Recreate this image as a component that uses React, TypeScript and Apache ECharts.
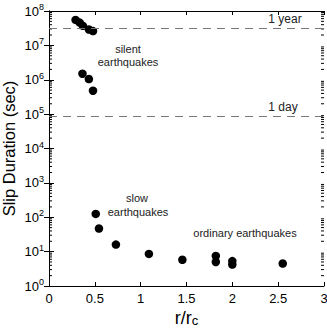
import React, { useEffect, useRef } from "react";
import * as echarts from "echarts";

const silentX = [0.29, 0.335, 0.37, 0.435, 0.48, 0.365, 0.435, 0.48];
const silentY = [5.5e7, 4.6e7, 3.7e7, 2.9e7, 2.6e7, 1.5e6, 1.05e6, 4.8e5];
const slowX = [0.51, 0.545, 0.73, 1.09];
const slowY = [125, 47, 16, 8.6];
const ordinaryX = [1.455, 1.82, 1.82, 2.0, 2.0, 2.55];
const ordinaryY = [5.8, 7.5, 5.0, 5.3, 4.2, 4.5];

const oneYear = 31536000;
const oneDay = 86400;

const xTicks = [0, 0.5, 1, 1.5, 2, 2.5, 3];
const decades = [1, 10, 100, 1e3, 1e4, 1e5, 1e6, 1e7];
const minorMultipliers = [2, 3, 4, 5, 6, 7, 8, 9];

const FONT = "Liberation Sans, Arial, Helvetica, sans-serif";

export default function App() {
  const ref = useRef<HTMLDivElement>(null);
  useEffect(() => {
    if (!ref.current) return;
    const chart = echarts.init(ref.current, undefined, { renderer: "svg" });
    const points = [
      ...silentX.map((x, i) => [x, silentY[i]]),
      ...slowX.map((x, i) => [x, slowY[i]]),
      ...ordinaryX.map((x, i) => [x, ordinaryY[i]]),
    ];
    const minorVals: number[] = [];
    decades.forEach((d) => minorMultipliers.forEach((m) => minorVals.push(d * m)));

    const axisLine = { show: true, lineStyle: { color: "#000", width: 1 } };
    chart.setOption({
      animation: false,
      grid: { left: 49, right: 3, top: 11, bottom: 45, containLabel: false, outerBoundsMode: "none" },
      xAxis: [
        {
          type: "value",
          min: 0,
          max: 3,
          interval: 0.5,
          axisLine,
          axisTick: { show: true, inside: true, length: 4, lineStyle: { color: "#000" } },
          splitLine: { show: false },
          axisLabel: {
            color: "#000",
            fontFamily: FONT,
            fontSize: 13,
            margin: 6,
            formatter: (v: number) => (xTicks.includes(v) ? String(v) : ""),
          },
          name: "{a|r/r}{b|c}",
          nameLocation: "middle",
          nameGap: 22,
          nameMoveOverlap: false,
          nameTextStyle: {
            rich: {
              a: { fontFamily: FONT, fontSize: 18, color: "#000" },
              b: { fontFamily: FONT, fontSize: 13, color: "#000", padding: [6, 0, 0, 0] },
            },
          },
        },
        {
          type: "value",
          position: "top",
          min: 0,
          max: 3,
          interval: 0.5,
          axisLine,
          axisTick: { show: true, inside: true, length: 4, lineStyle: { color: "#000" } },
          axisLabel: { show: false },
          splitLine: { show: false },
        },
      ],
      yAxis: [
        {
          type: "log",
          logBase: 10,
          min: 1,
          max: 1e8,
          axisLine,
          axisTick: { show: true, inside: true, length: 5, lineStyle: { color: "#000" } },
          splitLine: { show: false },
          axisLabel: {
            fontFamily: FONT,
            margin: 5,
            formatter: (v: number) => `{b|10}{s|${Math.round(Math.log10(v))}}`,
            rich: {
              b: { fontFamily: FONT, fontSize: 13, color: "#000" },
              s: { fontFamily: FONT, fontSize: 9, color: "#000", padding: [0, 0, 8, 0] },
            },
          },
          name: "Slip Duration (sec)",
          nameLocation: "middle",
          nameGap: 32,
          nameMoveOverlap: false,
          nameTextStyle: { fontFamily: FONT, fontSize: 16.5, lineHeight: 17, color: "#000" },
        },
        {
          type: "log",
          logBase: 10,
          min: 1,
          max: 1e8,
          position: "right",
          axisLine,
          axisTick: { show: true, inside: true, length: 5, lineStyle: { color: "#000" } },
          axisLabel: { show: false },
          splitLine: { show: false },
        },
      ],
      series: [
        {
          type: "scatter",
          data: points,
          symbol: "circle",
          symbolSize: 8.5,
          itemStyle: { color: "#000", opacity: 1 },
          markLine: {
            silent: true,
            symbol: "none",
            label: { show: false },
            lineStyle: { color: "#777", type: [8, 6], width: 1, opacity: 1 },
            data: [{ yAxis: oneYear }, { yAxis: oneDay }],
          },
        },
        {
          type: "custom",
          data: minorVals.map((v) => [v]),
          renderItem: (params: any, api: any) => {
            const v = api.value(0);
            const l = api.coord([0, v]);
            const r = api.coord([3, v]);
            const style = { stroke: "#000", lineWidth: 1 };
            return {
              type: "group",
              children: [
                { type: "line", shape: { x1: l[0], y1: l[1], x2: l[0] + 3, y2: l[1] }, style },
                { type: "line", shape: { x1: r[0], y1: r[1], x2: r[0] - 3, y2: r[1] }, style },
              ],
            };
          },
          encode: { y: 0 },
          silent: true,
        },
      ],
      graphic: [
        { type: "text", x: 128, y: 49, style: { text: "silent", fontFamily: FONT, fontSize: 11, fill: "#222", align: "center", verticalAlign: "middle" } },
        { type: "text", x: 128, y: 62, style: { text: "earthquakes", fontFamily: FONT, fontSize: 11, fill: "#222", align: "center", verticalAlign: "middle" } },
        { type: "text", x: 137, y: 198, style: { text: "slow", fontFamily: FONT, fontSize: 11, fill: "#222", align: "center", verticalAlign: "middle" } },
        { type: "text", x: 138, y: 212, style: { text: "earthquakes", fontFamily: FONT, fontSize: 11, fill: "#222", align: "center", verticalAlign: "middle" } },
        { type: "text", x: 245, y: 233, style: { text: "ordinary earthquakes", fontFamily: FONT, fontSize: 11, fill: "#222", align: "center", verticalAlign: "middle" } },
        { type: "text", x: 285, y: 19, style: { text: "1 year", fontFamily: FONT, fontSize: 12, fill: "#222", align: "center", verticalAlign: "middle" } },
        { type: "text", x: 283, y: 107, style: { text: "1 day", fontFamily: FONT, fontSize: 12, fill: "#222", align: "center", verticalAlign: "middle" } },
      ],
    });
    return () => chart.dispose();
  }, []);
  return <div ref={ref} style={{ width: 327, height: 331, position: "absolute", left: 0, top: 0 }} />;
}
